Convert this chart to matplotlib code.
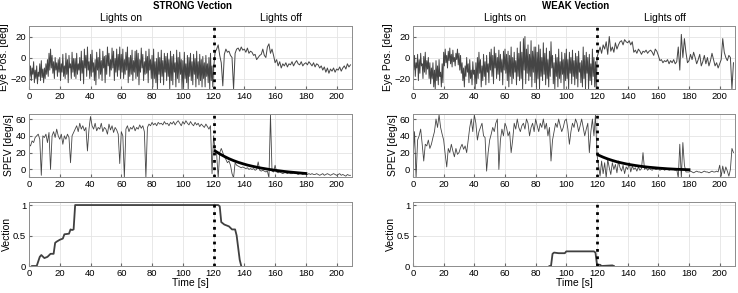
import matplotlib
matplotlib.use("Agg")
import matplotlib.pyplot as plt
import numpy as np

plt.rcParams['font.family'] = ['Liberation Sans', 'DejaVu Sans']

# lights on: half-second samples, lights off: 1 s samples
t_on = np.arange(0, 120, 0.5)
t_off = np.arange(120, 210)
t = np.arange(0, 210)

# ---- STRONG vection ----
eye_strong_on = [
    -5, -18, -8, -22, -10, -16, -4, -24, -12, -20, -8, -25, -14, -18, -6, -22, -3, -19, -11, -24,
    -10, -20, -6, -16, -2, -18, 4, -12, 8, -10, 2, -15, -4, -20, 0, -12, -5, -18, -2, -14,
    0, -22, -6, -14, 3, -18, -8, -20, 4, -16, -2, -24, 2, -10, -6, -20, 5, -14, -1, -18,
    -1, -20, 4, -16, -6, -12, 0, -22, 6, -15, -3, -25, 8, -10, 2, -18, 10, -12, -4, -20,
    3, -18, 7, -14, -5, -22, -2, -26, 5, -12, 0, -20, 8, -16, -3, -22, 6, -10, 1, -24,
    2, -16, 10, -8, 4, -18, -2, -12, 9, -10, 6, -22, -1, -14, 8, -18, 3, -12, 10, -20,
    3, -14, 8, -20, -2, -16, 5, -12, 10, -24, 0, -18, 2, -16, 7, -22, -3, -14, 6, -20,
    7, -18, 4, -26, -2, -14, 9, -10, 3, -22, -4, -16, 6, -15, 1, -24, 8, -12, -2, -20,
    2, -28, 8, -20, -4, -24, -1, -30, 5, -16, 0, -24, 7, -18, -3, -26, 4, -14, 1, -22,
    4, -18, -2, -30, 6, -22, 1, -26, 3, -14, -5, -28, 7, -20, 0, -24, 5, -16, -2, -30,
    -3, -28, 5, -20, -6, -24, 2, -30, 0, -18, 4, -22, -4, -26, 3, -16, -1, -28, 6, -20,
    -4, -26, 3, -22, -2, -28, 1, -20, -5, -28, 2, -18, -6, -24, 0, -30, 4, -22, -8, -28,
]
eye_strong_off = [
    -10, 5, 8, 12, 2, -5, -27, 3, 8, 5,
    6, 2, 0, -30, 4, 8, 9, 6, 10, 7,
    8, 5, 9, 4, 6, 5, 2, 3, -2, 0,
    2, 3, 8, 2, 0, 10, 13, 4, 8, 2,
    -5, -2, -8, -4, -10, -6, -8, -5, -9, -6,
    -7, -4, -8, -5, -3, -6, -7, -4, -8, -6,
    -5, -7, -4, -6, -8, -5, -9, -6, -7, -10,
    -8, -12, -9, -14, -10, -15, -11, -13, -10, -14,
    -11, -12, -9, -13, -10, -8, -11, -6, -9, -7,
]

spev_strong = [
    30, 28, 34, 32, 38, 40, 42, 36, -7, 40,
    38, 42, 32, 44, 0, 40, 45, 38, 48, 40,
    36, 42, 30, 40, 36, 42, 38, 8, 40, 44,
    48, 52, 45, 55, 48, 52, 46, 50, 22, 48,
    63, 52, 48, 55, 46, 50, 48, 55, 45, 50,
    48, 42, 54, 47, 52, 44, 50, 47, 42, 7,
    45, 40, -10, 48, 52, 45, 50, 48, 52, 46,
    50, 48, 53, 49, 52, 45, -10, 50, 54, 52,
    56, 53, 55, 52, 56, 54, 55, 53, 57, 54,
    55, 52, 56, 54, 57, 53, 56, 58, 55, 52,
    57, 54, 58, 55, 53, 57, 54, 52, 56, 53,
    55, 51, 54, 52, 50, 54, 51, 48, 52, -5,
    40, 22, 18, -10, 20, 25, 20, 15, 12, 8,
    10, 5, -5, -10, 8, 5, 4, 3, 2, 3,
    2, 1, 2, 0, 1, 0, 1, -1, 0, 9,
    -1, -2, -1, -2, -3, -2, -10, 65, -2, -3,
    5, -3, -4, -3, -4, -5, -4, -4, -5, -4,
    -5, -5, -4, -5, -5, -6, -5, -5, -6, -5,
    -5, -6, -5, -6, -5, -6, -6, -5, -6, -7,
    -6, -5, -7, -6, -5, -6, -7, -6, -5, -6,
    -7, -6, -5, -7, -6, -7, -8, -6, -7, -7,
]

fit_t_strong = [121, 124, 127, 130, 133, 136, 139, 142, 145, 148, 151,
                154, 157, 160, 163, 166, 169, 172, 175, 178, 180]
fit_y_strong = [22, 18.5, 15.5, 12.8, 10.5, 8.5, 6.8, 5.2, 3.9, 2.7, 1.6,
                0.7, -0.2, -1, -1.7, -2.4, -3, -3.5, -4, -4.5, -4.8]

vec_t_strong = [2, 5, 7, 8, 10, 12, 14, 16, 17, 18, 20, 22, 23, 26, 27, 28,
                29, 30, 122, 123, 124, 125, 127, 130, 132, 134, 135, 137, 138]
vec_y_strong = [0, 0, 0.15, 0.18, 0.13, 0.15, 0.2, 0.2, 0.38, 0.4, 0.43,
                0.45, 0.52, 0.53, 0.6, 0.59, 0.6, 1.0, 1.0, 1.0, 0.98, 0.72,
                0.68, 0.65, 0.6, 0.6, 0.5, 0.1, 0]

# ---- WEAK vection ----
eye_weak_on = [
    0, -12, 2, -18, -5, -10, 3, -22, -2, -15, 4, -8, -6, -20, 1, -14, 5, -16, -3, -11,
    0, -20, -5, -25, -10, -20, -5, -28, -12, -30, -3, -22, -8, -26, -2, -18, -14, -28, -6, -24,
    5, -8, 8, -5, 2, -10, 6, -3, 9, -6, 3, -9, 7, -4, 0, -8, 4, -2, 8, -7,
    4, -12, 2, -15, -5, -22, -10, -28, -8, -18, 0, -14, -6, -24, -2, -20, -12, -26, -4, -16,
    -12, -30, -5, -25, 0, -20, 5, -15, -2, -28, -8, -22, 3, -18, -4, -26, 2, -14, -6, -24,
    5, -12, 8, -18, 2, -25, 10, -10, 4, -20, 0, -16, 7, -22, 3, -14, -2, -26, 6, -12,
    8, -15, 3, -22, 6, -28, 2, -18, 10, -25, 0, -20, 5, -14, -3, -26, 9, -18, 4, -22,
    15, -20, 5, -30, 18, -12, 20, -25, 8, -15, 12, -22, 3, -18, 16, -28, 6, -14, 10, -24,
    10, -28, 5, -20, 12, -30, 8, -18, 0, -22, 14, -16, 4, -26, 9, -20, -2, -28, 6, -18,
    15, -10, 2, -25, -5, -30, 3, -18, 0, -28, 8, -20, -4, -24, 5, -16, -2, -30, 4, -22,
    8, -20, -2, -30, 5, -15, 0, -25, 7, -18, -3, -26, 4, -20, 1, -28, 6, -14, -5, -24,
    -3, -28, 10, -20, 2, -30, 5, -15, 0, -30, 3, -22, -6, -26, 8, -18, 0, -28, -4, -30,
]
eye_weak_off = [
    0, 5, 10, 4, 12, 8, 15, 3, 20, 6,
    10, 5, 14, 8, 12, 15, 16, 12, 17, 15,
    14, 16, 12, 15, 5, 7, 4, 8, 6, 3,
    6, 5, 7, 4, 6, 7, 5, 2, 8, 6,
    2, -3, -2, -5, -3, -4, -2, -6, -3, -5,
    -2, -6, -4, 10, -12, 22, 0, 18, 5, -5,
    -3, 3, -2, 5, 0, -6, -2, 3, -8, -4,
    2, -6, 0, -8, -3, 4, -2, -8, -5, -10,
    -6, -2, 18, 5, 0, -3, 2, 0, -30, -5,
]

spev_weak = [
    10, 45, -10, 35, 40, 48, 30, 10, 30, 28,
    35, 25, 30, 38, 45, 60, 50, 65, 50, 42,
    35, 18, 3, 25, 20, 30, 22, 15, 25, 18,
    20, 26, 30, 24, 28, 20, 35, 50, 60, 45,
    65, 55, 35, 45, 50, 55, 40, 38, -2, 20,
    35, 42, 50, 45, 55, 60, 0, 35, 48, 40,
    55, 50, 40, 45, 20, 35, 55, 48, 60, 50,
    45, 52, 55, 48, 60, 55, 40, 50, 55, 45,
    60, 52, 45, 55, 50, 60, 48, 55, 40, 50,
    10, 35, 45, 55, 50, 60, 52, 45, 50, 58,
    60, 48, 30, 45, 55, 50, 60, 55, 45, 52,
    60, 50, 40, 48, 55, 20, 45, 60, 40, 65,
    17, 5, -8, 10, -5, 8, -10, 12, 2, -6,
    8, 0, 6, -4, 10, 2, -2, 5, -5, 3,
    0, 8, -3, 4, 0, 2, -2, 3, -1, 1,
    20, 0, 2, -1, 1, 0, -1, 1, 0, 0,
    1, -1, 0, 1, -1, 0, 1, -1, 0, 1,
    0, -1, 0, -10, 30, -10, 32, 5, -3, -3,
    -3, -2, -3, -4, -3, -2, -3, -3, -4, -3,
    -2, -3, -3, -4, -3, -2, -3, -3, -2, -3,
    5, -8, 4, -5, 3, -2, -8, 0, 25, 20,
]

fit_t_weak = [121, 124, 127, 130, 133, 136, 139, 142, 145, 148, 151,
              154, 157, 160, 163, 166, 169, 172, 175, 178, 180]
fit_y_weak = [17, 14.6, 12.5, 10.7, 9.1, 7.8, 6.6, 5.6, 4.7, 3.9, 3.2,
              2.6, 2.1, 1.6, 1.2, 0.8, 0.5, 0.2, 0, -0.2, -0.3]

vec_t_weak = [89, 90, 91, 92, 95, 99, 100, 118, 119, 120, 122, 123, 130, 131]
vec_y_weak = [0, 0, 0.2, 0.22, 0.21, 0.21, 0.24, 0.24, 0.22, 0.02, 0.02,
              0, 0.01, 0]

trace_col = '#454545'
W, H = 738, 293
fig = plt.figure(figsize=(W / 100, H / 100), dpi=100)

cols = [(29, 352), (413, 735)]
rows = [(26, 89), (114, 177), (202, 266)]
lab_fs = 7.5
tick_fs = 6.8


def make_ax(c, r):
    x0, x1 = cols[c]
    y0, y1 = rows[r]
    ax = fig.add_axes([x0 / W, 1 - y1 / H, (x1 - x0) / W, (y1 - y0) / H])
    ax.set_xlim(0, 210)
    ax.set_xticks(range(0, 201, 20))
    ax.grid(True, color='#e4e4e4', lw=0.6)
    ax.set_axisbelow(True)
    ax.tick_params(labelsize=tick_fs, direction='in', length=2,
                   color='#666666', pad=2)
    for s in ax.spines.values():
        s.set_color('#8c8c8c')
        s.set_linewidth(0.7)
    return ax


data = [
    ("STRONG Vection", eye_strong_on, eye_strong_off, spev_strong,
     fit_t_strong, fit_y_strong, vec_t_strong, vec_y_strong),
    ("WEAK Vection", eye_weak_on, eye_weak_off, spev_weak,
     fit_t_weak, fit_y_weak, vec_t_weak, vec_y_weak),
]

for c, (title, eye_on, eye_off, spev, ft, fy, vt, vy) in enumerate(data):
    x0, x1 = cols[c]
    sc = (x1 - x0) / 210
    fig.text((x0 + 106 * sc) / W, 1 - 6 / H, title, ha='center', va='center',
             fontsize=7, fontweight='bold')
    fig.text((x0 + 60 * sc) / W, 1 - 18 / H, "Lights on", ha='center',
             va='center', fontsize=lab_fs)
    fig.text((x0 + 164 * sc) / W, 1 - 18 / H, "Lights off", ha='center',
             va='center', fontsize=lab_fs)

    ax = make_ax(c, 0)
    ax.plot(np.concatenate([t_on, t_off]), eye_on + eye_off,
            color=trace_col, lw=0.7)
    ax.axvline(120, color='black', ls=':', lw=2)
    ax.set_ylim(-30, 30)
    ax.set_yticks([-20, 0, 20])
    ax.set_ylabel("Eye Pos. [deg]", fontsize=lab_fs, labelpad=1)

    ax = make_ax(c, 1)
    ax.plot(t, spev, color=trace_col, lw=0.6)
    ax.plot(ft, fy, color='black', lw=2)
    ax.axvline(120, color='black', ls=':', lw=2)
    ax.set_ylim(-9, 66)
    ax.set_yticks([0, 20, 40, 60])
    ax.set_ylabel("SPEV [deg/s]", fontsize=lab_fs, labelpad=1)

    ax = make_ax(c, 2)
    ax.plot(vt, vy, color='#404040', lw=1.3)
    ax.axvline(120, color='black', ls=':', lw=2)
    ax.set_ylim(0, 1.05)
    ax.set_yticks([0, 0.5, 1])
    ax.set_yticklabels(['0', '0.5', '1'])
    ax.set_ylabel("Vection", fontsize=lab_fs, labelpad=1)
    ax.set_xlabel("Time [s]", fontsize=lab_fs, labelpad=0)

fig.savefig("out.png", dpi=100)
